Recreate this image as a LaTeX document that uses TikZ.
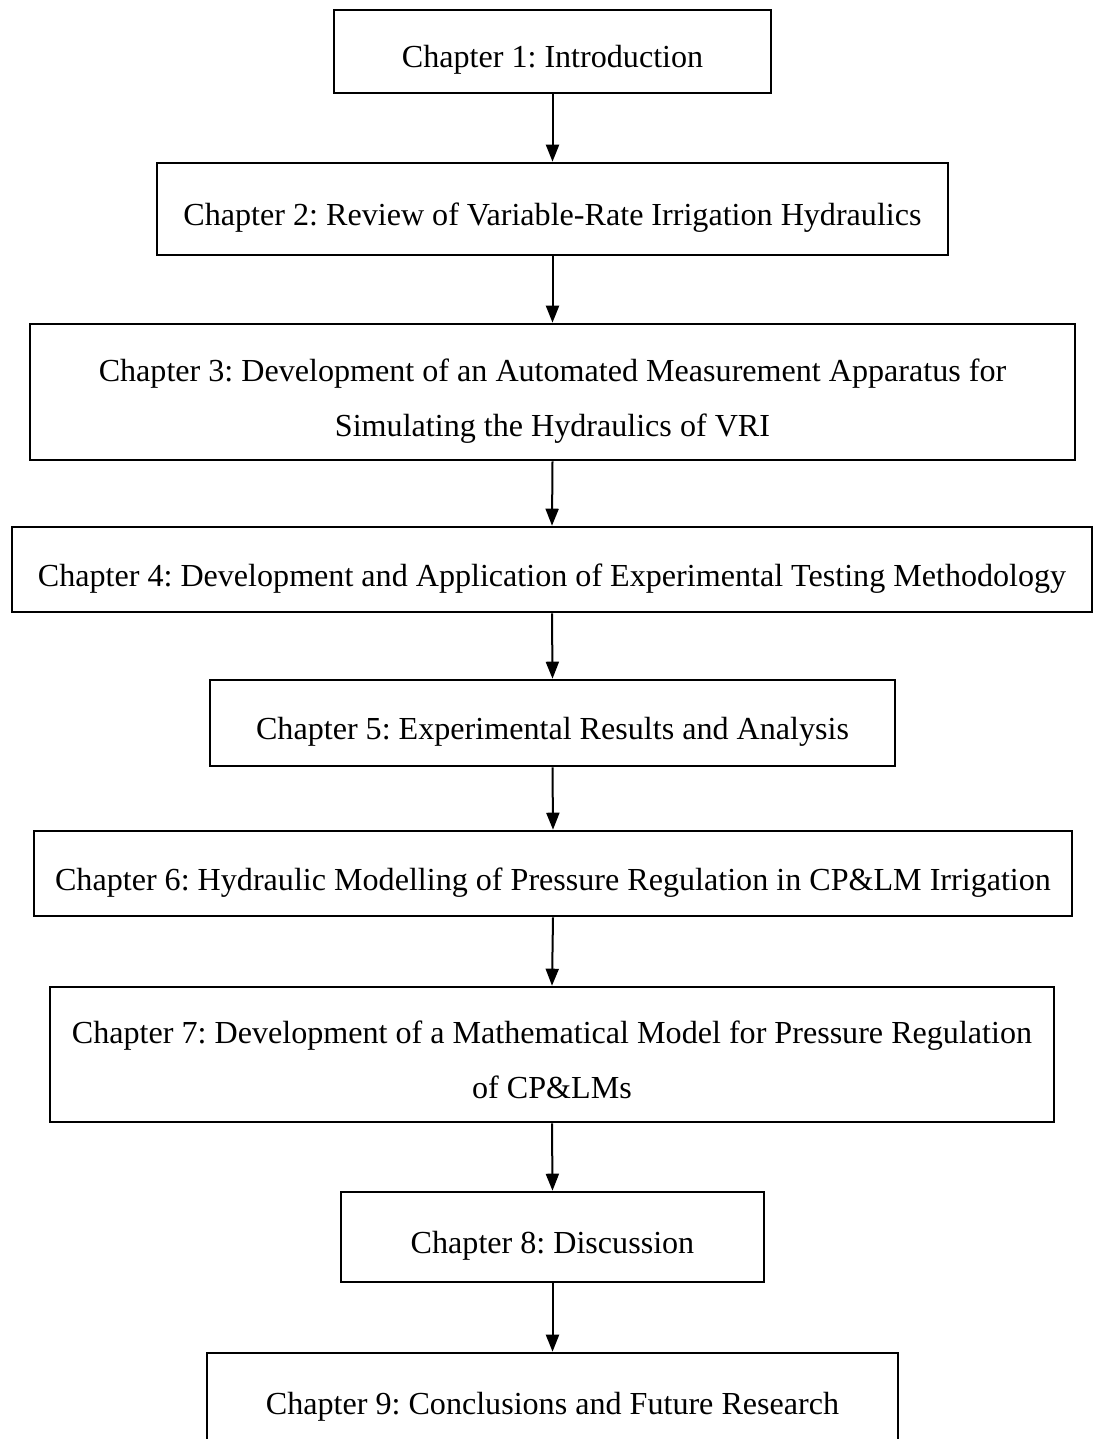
\documentclass[tikz,border=0pt]{standalone}
\usepackage{fontspec}
\setmainfont{Liberation Serif}
\usetikzlibrary{arrows.meta}
\frenchspacing

\begin{document}
\begin{tikzpicture}[x=1pt,y=-1pt,
  chapbox/.style={draw=black, line width=2.6pt, fill=white, inner sep=0pt, align=center,
    text height=33pt, text depth=0pt, font=\fontsize{32.1}{55}\selectfont},
  twoline/.style={chapbox, text height=88pt},
  flow/.style={line width=2pt, -{Triangle[length=17pt,width=13pt]}}]
\useasboundingbox (0,0) rectangle (1092,1439);
% chapters
\node [chapbox, minimum width=437pt, minimum height=83pt] (ch1) at (552.5,51.5) {Chapter 1: Introduction};
\node [chapbox, minimum width=791pt, minimum height=92pt] (ch2) at (552.5,209) {Chapter 2: Review of Variable-Rate Irrigation Hydraulics};
\node [twoline, minimum width=1045pt, minimum height=136pt] (ch3) at (552.5,392) {Chapter 3: Development of an Automated Measurement Apparatus for\\Simulating the Hydraulics of VRI};
\node [chapbox, minimum width=1080pt, minimum height=85pt] (ch4) at (552,569.5) {Chapter 4: Development and Application of Experimental Testing Methodology};
\node [chapbox, minimum width=685pt, minimum height=86pt] (ch5) at (552.5,723) {Chapter 5: Experimental Results and Analysis};
\node [chapbox, minimum width=1038pt, minimum height=85pt] (ch6) at (553,873.5) {Chapter 6: Hydraulic Modelling of Pressure Regulation in CP\&LM Irrigation};
\node [twoline, minimum width=1004pt, minimum height=135pt] (ch7) at (552,1054.5) {Chapter 7: Development of a Mathematical Model for Pressure Regulation\\of CP\&LMs};
\node [chapbox, minimum width=423pt, minimum height=90pt] (ch8) at (552.5,1237) {Chapter 8: Discussion};
\node [chapbox, minimum width=691pt, minimum height=90pt] (ch9) at (552.5,1398) {Chapter 9: Conclusions and Future Research};
% arrows
\draw [flow] (ch1.south) -- (ch2.north);
\draw [flow] (ch2.south) -- (ch3.north);
\draw [flow] (ch3.south) -- (ch4.north);
\draw [flow] (ch4.south) -- (ch5.north);
\draw [flow] (ch5.south) -- (ch6.north);
\draw [flow] (ch6.south) -- (ch7.north);
\draw [flow] (ch7.south) -- (ch8.north);
\draw [flow] (ch8.south) -- (ch9.north);
\end{tikzpicture}
\end{document}
